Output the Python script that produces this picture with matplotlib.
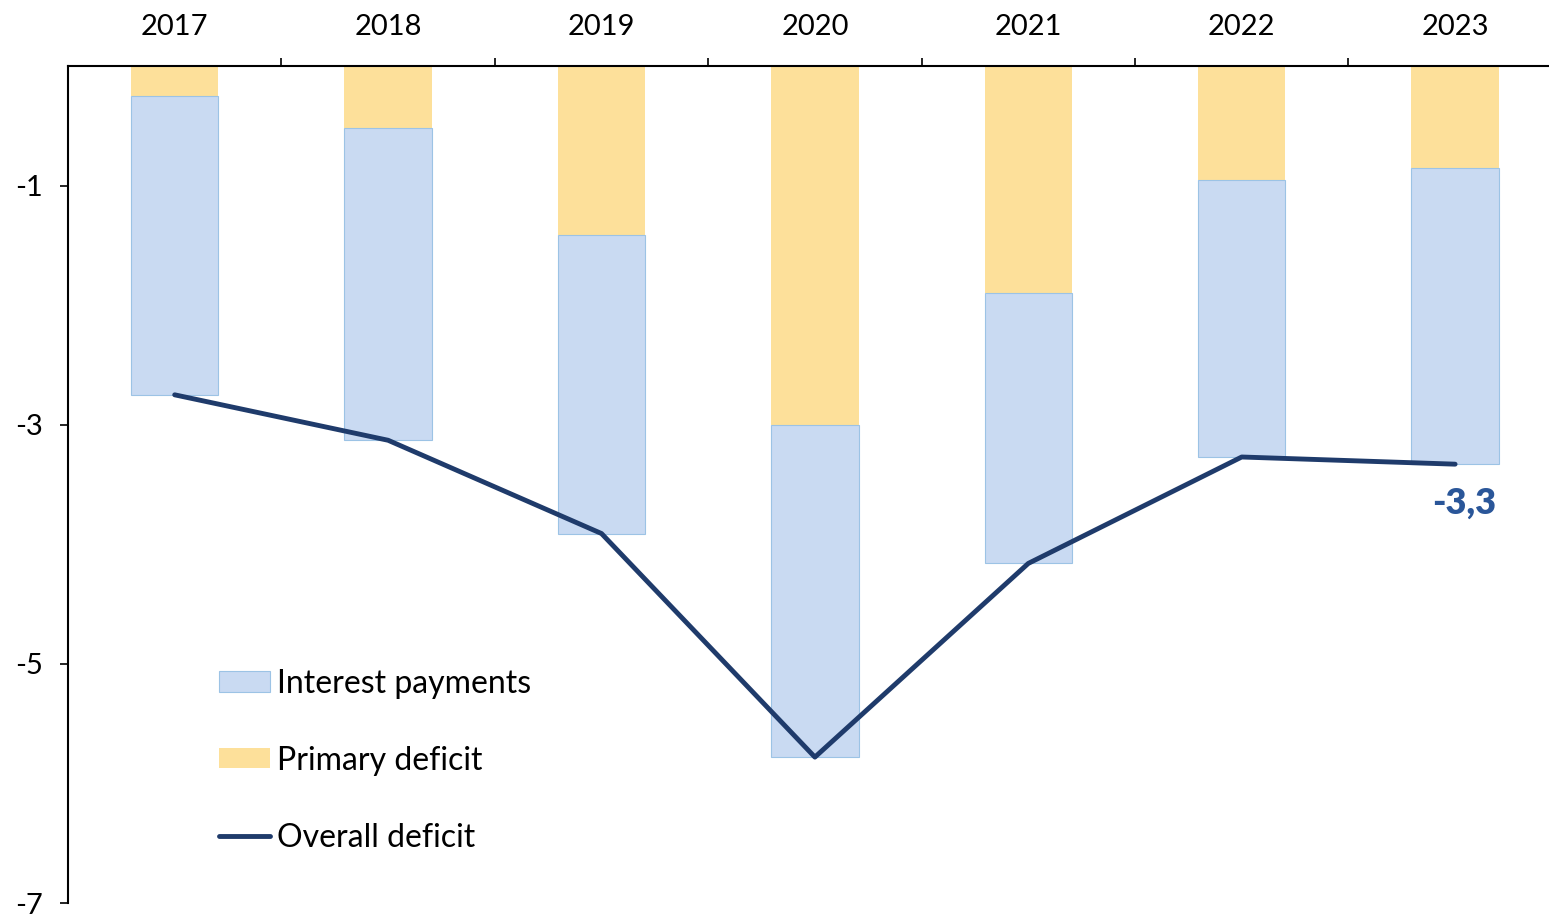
import matplotlib.pyplot as plt
import numpy as np

# Data (% of GDP)
years = ['2017', '2018', '2019', '2020', '2021', '2022', '2023']
primary = [-0.25, -0.52, -1.41, -3.00, -1.90, -0.95, -0.85]
interest = [-2.50, -2.61, -2.50, -2.78, -2.26, -2.32, -2.48]
overall = [-2.75, -3.13, -3.91, -5.78, -4.16, -3.27, -3.33]
yticks = [-1, -3, -5, -7]

plt.rcParams['font.family'] = ['Lato', 'DejaVu Sans']

fig = plt.figure(figsize=(15.49, 9.16), dpi=100)
ax = fig.add_axes([68/1549, 1 - 903/916, 1 - 68/1549, (903 - 66)/916])

x = np.arange(len(years))
w = 0.41

b_prim = ax.bar(x, primary, width=w, color='#FDE09A', edgecolor='none', zorder=2)
b_int = ax.bar(x, interest, width=w, bottom=primary, color='#C9DAF2', edgecolor='#9CC3E5',
               linewidth=0.8, zorder=2)
ln, = ax.plot(x, overall, color='#1F3B6B', linewidth=3.5, solid_capstyle='round', zorder=3)

ax.text(x[-1] + 0.04, overall[-1] - 0.33, '-3,3', color='#2A5699', fontsize=26,
        fontweight='heavy', ha='center', va='center')

ax.set_xlim(-0.5, 6.44)
ax.set_ylim(-7, 0)

# x axis on top, ticks between categories
ax.xaxis.tick_top()
ax.set_xticks(x)
ax.set_xticklabels(years)
ax.set_xticks(np.arange(0.5, 6.0, 1), minor=True)
ax.tick_params(axis='x', which='major', length=0, pad=19, labelsize=21)
ax.tick_params(axis='x', which='minor', length=6, width=1.2, direction='out')

ax.set_yticks(yticks)
ax.set_yticklabels([str(v) for v in yticks])
ax.tick_params(axis='y', length=6, width=1.2, pad=12, labelsize=21)

for s in ['right', 'bottom']:
    ax.spines[s].set_visible(False)
for s in ['left', 'top']:
    ax.spines[s].set_linewidth(1.5)

ax.legend([b_int, b_prim, ln], ['Interest payments', 'Primary deficit', 'Overall deficit'],
          loc='upper left', bbox_to_anchor=(0.102, 0.28), frameon=False, fontsize=23,
          borderpad=0, borderaxespad=0, handlelength=1.6, handleheight=0.6,
          handletextpad=0.22, labelspacing=1.47)

fig.savefig('out.png', dpi=100)
